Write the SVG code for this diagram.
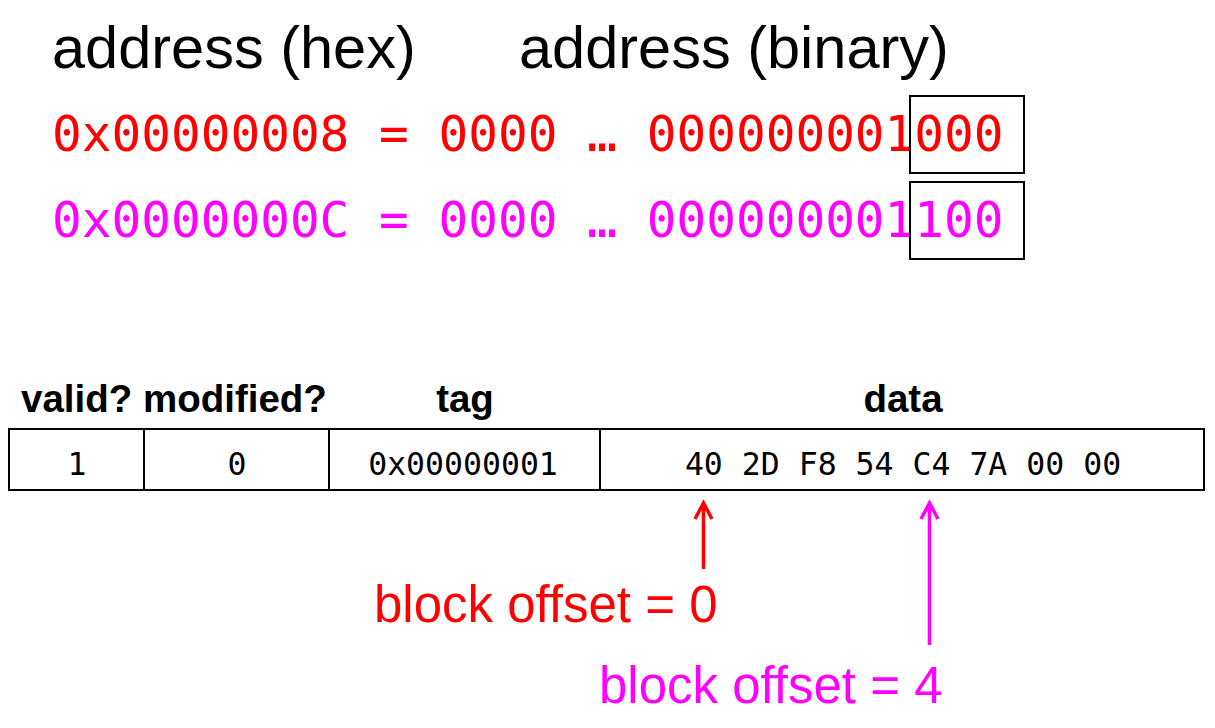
<svg xmlns="http://www.w3.org/2000/svg" width="1215" height="728" viewBox="0 0 1215 728">
<defs>
<style>
.hdr{font-family:"Liberation Sans",Arial,sans-serif;font-size:59.5px;fill:#000}
.mono{font-family:"DejaVu Sans Mono","Liberation Mono",monospace;font-size:49.4px}
.red{fill:#ff0000}
.mag{fill:#ff00ff}
.box{fill:none;stroke:#000;stroke-width:2}
.th{font-family:"Liberation Sans",Arial,sans-serif;font-weight:bold;font-size:38.5px;fill:#000}
.mid{text-anchor:middle}
.cell{font-family:"DejaVu Sans Mono","Liberation Mono",monospace;font-size:31.5px;fill:#000;text-anchor:middle}
.lbl{font-family:"Liberation Sans",Arial,sans-serif;font-size:51px}
.ar{fill:none;stroke-width:3.5;stroke-linecap:butt;stroke-linejoin:miter}
</style>
</defs>
<rect width="1215" height="728" fill="#fff"/>
<g id="headers">
<text class="hdr" x="52" y="68">address (hex)</text>
<text class="hdr" x="519" y="68">address (binary)</text>
</g>
<g id="addr1">
<text class="mono red" x="52" y="151">0x00000008 = 0000 … 000000001000</text>
<rect class="box" x="910" y="96" width="114" height="77"/>
</g>
<g id="addr2">
<text class="mono mag" x="52" y="237">0x0000000C = 0000 … 000000001100</text>
<rect class="box" x="910" y="182" width="114" height="77"/>
</g>
<g id="table">
<text class="th" x="21" y="412">valid? modified?</text>
<text class="th mid" x="465" y="412">tag</text>
<text class="th mid" x="903" y="412">data</text>
<rect class="box" x="9" y="429" width="1195" height="61"/>
<line x1="144" y1="429" x2="144" y2="490" stroke="#000" stroke-width="2"/>
<line x1="329" y1="429" x2="329" y2="490" stroke="#000" stroke-width="2"/>
<line x1="600" y1="429" x2="600" y2="490" stroke="#000" stroke-width="2"/>
<text class="cell" x="77" y="475">1</text>
<text class="cell" x="237" y="475">0</text>
<text class="cell" x="463" y="475">0x00000001</text>
<text class="cell" x="903" y="475">40 2D F8 54 C4 7A 00 00</text>
</g>
<g id="connectors">
<path class="ar" stroke="#ff0000" d="M703.5 569 V504 M695 519 L703.5 503 L712 519"/>
<path class="ar" stroke="#ff00ff" d="M929.5 645 V504 M921 519 L929.5 503 L938 519"/>
</g>
<g id="label0">
<text class="lbl red" x="374" y="622">block offset = 0</text>
</g>
<g id="label4">
<text class="lbl mag" x="599" y="703">block offset = 4</text>
</g>
</svg>
